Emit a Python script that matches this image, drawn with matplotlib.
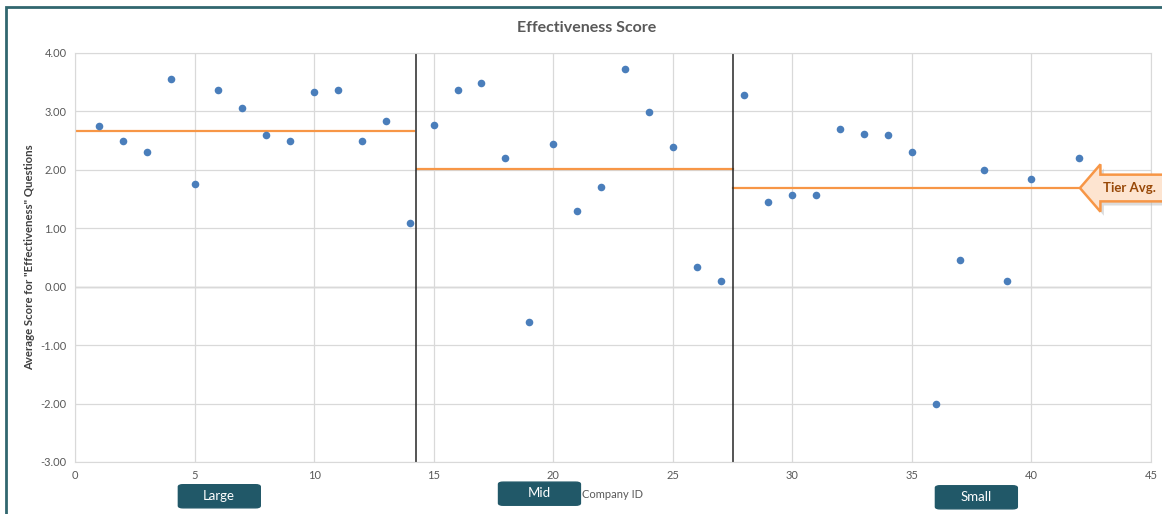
import matplotlib
matplotlib.use("Agg")
import matplotlib.pyplot as plt
from matplotlib.patches import Rectangle, FancyBboxPatch, Polygon

plt.rcParams['font.family'] = ['Lato', 'DejaVu Sans']

# company ids and scores per tier
large_ids = [1, 2, 3, 4, 5, 6, 7, 8, 9, 10, 11, 12, 13, 14]
large_scores = [2.75, 2.49, 2.30, 3.55, 1.76, 3.37, 3.06, 2.60, 2.49, 3.33, 3.37, 2.49, 2.84, 1.09]
mid_ids = [15, 16, 17, 18, 19, 20, 21, 22, 23, 24, 25, 26, 27]
mid_scores = [2.77, 3.37, 3.49, 2.20, -0.60, 2.44, 1.30, 1.71, 3.73, 2.99, 2.39, 0.34, 0.10]
small_ids = [28, 29, 30, 31, 32, 33, 34, 35, 36, 37, 38, 39, 40, 42]
small_scores = [3.28, 1.45, 1.57, 1.57, 2.70, 2.61, 2.60, 2.30, -2.01, 0.46, 2.00, 0.10, 1.84, 2.20]

tier_names = ['Large', 'Mid', 'Small']
tier_avg = [2.66, 2.02, 1.69]
tier_start = [0, 14.3, 27.5]
tier_end = [14.2, 27.5, 42.0]
dividers = [14.25, 27.5]

blue = '#4a7ebb'
orange = '#f79646'
teal = '#215868'
gray_txt = '#595959'

fig = plt.figure(figsize=(11.62, 5.14), dpi=100)
ax = fig.add_axes([0.0645, 0.1012, 0.926, 0.7957])

ids = large_ids + mid_ids + small_ids
scores = large_scores + mid_scores + small_scores
ax.scatter(ids, scores, s=30, color=blue, zorder=3, linewidths=0)

for s, e, a in zip(tier_start, tier_end, tier_avg):
    ax.plot([s, e], [a, a], color=orange, lw=1.6, zorder=2)

for d in dividers:
    ax.axvline(d, color='#262626', lw=1.1, zorder=2)

ax.set_xlim(0, 45)
ax.set_ylim(-3, 4)
ax.set_xticks(range(0, 46, 5))
ax.set_yticks(range(-3, 5))
ax.set_yticklabels([f'{v:.2f}' for v in range(-3, 5)])
ax.grid(True, color='#d9d9d9', lw=0.9, zorder=0)
ax.axhline(0, color='#bfbfbf', lw=1.0, zorder=1)
ax.tick_params(length=0, labelsize=8, colors=gray_txt, pad=6)
for sp in ax.spines.values():
    sp.set_color('#d9d9d9')
ax.set_ylabel('Average Score for "Effectiveness" Questions', fontsize=8.2,
              color='#404040', fontweight='bold', labelpad=4)

fig.text(0.505, 0.945, 'Effectiveness Score', ha='center', va='center',
         fontsize=11.5, fontweight='bold', color=gray_txt)

# outer frame
fig.patches.append(Rectangle((0.005, -0.05), 1.2, 1.036, transform=fig.transFigure,
                             fill=False, edgecolor='#31676f', lw=2.0))

# tier label boxes
box_x = [0.1535, 0.4290, 0.8050]
box_y = [0.012, 0.017, 0.010]
for name, bx, by in zip(tier_names, box_x, box_y):
    fig.patches.append(FancyBboxPatch((bx, by), 0.0705, 0.045, transform=fig.transFigure,
                                      boxstyle='round,pad=0,rounding_size=0.004',
                                      facecolor=teal, edgecolor=teal))
    fig.text(bx + 0.035, by + 0.023, name, ha='center', va='center',
             fontsize=9.5, color='white')

fig.text(0.501, 0.037, 'Company ID', ha='left', va='center', fontsize=8, color=gray_txt)

# Tier Avg. arrow callout
tip = (0.9294, 0.6342)
hx = 0.947
hh = 0.046
bh = 0.026
arrow_pts = [tip, (hx, tip[1] + hh), (hx, tip[1] + bh), (1.01, tip[1] + bh),
             (1.01, tip[1] - bh), (hx, tip[1] - bh), (hx, tip[1] - hh)]
shadow = Polygon([(x + 0.003, y - 0.008) for x, y in arrow_pts], closed=True,
                 transform=fig.transFigure, facecolor='#bbbbbb', edgecolor='none', alpha=0.5)
fig.patches.append(shadow)
fig.patches.append(Polygon(arrow_pts, closed=True, transform=fig.transFigure,
                           facecolor='#fde4d0', edgecolor=orange, lw=1.8))
fig.text(0.9495, tip[1], 'Tier Avg.', ha='left', va='center', fontsize=9.5,
         fontweight='bold', color='#984807')

fig.savefig('out.png', dpi=100)
